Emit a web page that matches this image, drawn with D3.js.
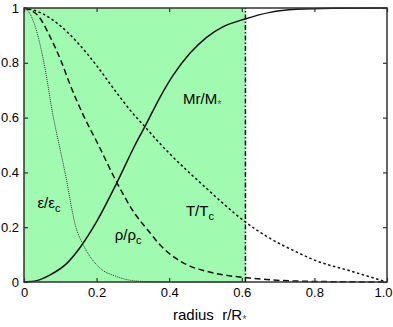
<!DOCTYPE html>
<html>
<head>
<meta charset="utf-8">
<script src="https://cdn.jsdelivr.net/npm/d3@7"></script>
<style>
  body { margin: 0; background: #fff; }
  svg { display: block; font-family: "Liberation Sans", Arial, sans-serif; }
</style>
</head>
<body>
<svg id="vis" width="393" height="327"></svg>
<script>
var MARGINS = {top: 8, right: 6, bottom: 45, left: 24};
var width = 393, height = 327;

// tick labels
var xTicks = [0, 0.2, 0.4, 0.6, 0.8, 1.0];
var xTickLabels = ["0", "0.2", "0.4", "0.6", "0.8", "1.0"];
var yTicks = [0, 0.2, 0.4, 0.6, 0.8, 1];
var yTickLabels = ["0", "0.2", "0.4", "0.6", "0.8", "1"];

// shaded core region edge (r/R*)
var coreEdge = 0.61;

// curves (r/R*, value)
var massR = [0, 0.035, 0.072, 0.118, 0.154, 0.2, 0.255, 0.306, 0.333, 0.375, 0.411, 0.457, 0.503, 0.549, 0.609, 0.678, 0.75, 0.85, 1.0];
var massV = [0, 0.005, 0.026, 0.068, 0.125, 0.22, 0.36, 0.5, 0.567, 0.675, 0.755, 0.835, 0.893, 0.932, 0.96, 0.984, 0.995, 0.999, 1.0];

var tempR = [0, 0.05, 0.1, 0.15, 0.2, 0.25, 0.3, 0.333, 0.361, 0.4, 0.457, 0.5, 0.55, 0.609, 0.678, 0.75, 0.8, 0.9, 0.95, 1.0];
var tempV = [1, 0.98, 0.935, 0.87, 0.79, 0.70, 0.615, 0.567, 0.525, 0.47, 0.397, 0.345, 0.285, 0.22, 0.159, 0.11, 0.08, 0.04, 0.02, 0];

var rhoR = [0, 0.04, 0.07, 0.101, 0.13, 0.163, 0.205, 0.255, 0.3, 0.347, 0.375, 0.42, 0.457, 0.5, 0.549, 0.609, 0.678, 0.8, 1.0];
var rhoV = [1, 0.97, 0.9, 0.81, 0.71, 0.61, 0.5, 0.365, 0.26, 0.18, 0.135, 0.085, 0.058, 0.04, 0.026, 0.016, 0.008, 0.002, 0];

var epsR = [0, 0.02, 0.04, 0.055, 0.081, 0.097, 0.113, 0.143, 0.165, 0.205, 0.255, 0.3, 0.35, 0.45, 0.6];
var epsV = [1, 0.97, 0.89, 0.8, 0.6, 0.5, 0.4, 0.2, 0.131, 0.056, 0.02, 0.005, 0.001, 0, 0];

var display = d3.select("#vis");

var xScale = d3.scaleLinear().domain([0, 1]).range([MARGINS.left, width - MARGINS.right]);
var yScale = d3.scaleLinear().domain([0, 1]).range([height - MARGINS.bottom, MARGINS.top]);

function pairs(rs, vs) {
    return rs.map(function (r, i) { return [r, vs[i]]; });
}

// green core region
display.append("rect")
    .attr("x", xScale(0))
    .attr("y", yScale(1))
    .attr("width", xScale(coreEdge) - xScale(0))
    .attr("height", yScale(0) - yScale(1))
    .attr("fill", "#a0fab0");

var line = d3.line()
    .x(function (d) { return xScale(d[0]); })
    .y(function (d) { return yScale(d[1]); })
    .curve(d3.curveMonotoneX);

var series = [
    {r: epsR, v: epsV, dash: "1,1", w: 1, color: "#333"},
    {r: rhoR, v: rhoV, dash: "6,3.5", w: 1.5, color: "#111"},
    {r: tempR, v: tempV, dash: "2.5,2.5", w: 1.5, color: "#111"},
    {r: massR, v: massV, dash: null, w: 1.5, color: "#111"}
];

series.forEach(function (s) {
    display.append("path")
        .datum(pairs(s.r, s.v))
        .attr("d", line)
        .attr("fill", "none")
        .attr("stroke", s.color)
        .attr("stroke-width", s.w)
        .attr("stroke-dasharray", s.dash);
});

// core boundary
display.append("line")
    .attr("x1", xScale(coreEdge)).attr("x2", xScale(coreEdge))
    .attr("y1", yScale(0)).attr("y2", yScale(1))
    .attr("stroke", "#111")
    .attr("stroke-width", 1.5)
    .attr("stroke-dasharray", "5,2,1.5,2");

// axes with inward ticks on all four sides
function styleAxis(g) {
    g.select(".domain").remove();
    g.selectAll(".tick line").attr("stroke", "#333").attr("stroke-width", 1.2);
    g.selectAll(".tick text").attr("fill", "#000").style("font-size", "13px")
        .style("font-family", "'Liberation Sans', Arial, sans-serif");
}

var xAxisG = display.append("g")
    .attr("transform", "translate(0," + yScale(0) + ")")
    .call(d3.axisBottom(xScale).tickValues(xTicks).tickSizeInner(-4).tickSizeOuter(0).tickPadding(6)
        .tickFormat(function (d, i) { return xTickLabels[i]; }))
    .call(styleAxis);
// keep the last label inside the window
xAxisG.selectAll(".tick text").filter(function (d) { return d === 1; }).attr("dx", -4);

display.append("g")
    .attr("transform", "translate(0," + yScale(1) + ")")
    .call(d3.axisTop(xScale).tickValues(xTicks).tickSizeInner(-4).tickSizeOuter(0).tickFormat(""))
    .call(styleAxis);
display.append("g")
    .attr("transform", "translate(" + xScale(0) + ",0)")
    .call(d3.axisLeft(yScale).tickValues(yTicks).tickSizeInner(-4).tickSizeOuter(0).tickPadding(5)
        .tickFormat(function (d, i) { return yTickLabels[i]; }))
    .call(styleAxis);
display.append("g")
    .attr("transform", "translate(" + xScale(1) + ",0)")
    .call(d3.axisRight(yScale).tickValues(yTicks).tickSizeInner(-4).tickSizeOuter(0).tickFormat(""))
    .call(styleAxis);

// frame
display.append("rect")
    .attr("x", xScale(0)).attr("y", yScale(1))
    .attr("width", xScale(1) - xScale(0))
    .attr("height", yScale(0) - yScale(1))
    .attr("fill", "none")
    .attr("stroke", "#333")
    .attr("stroke-width", 1.5);

// curve labels
function label(r, v, main, sub) {
    var t = display.append("text")
        .attr("x", xScale(r))
        .attr("y", yScale(v))
        .style("font-size", "15px")
        .attr("fill", "#000");
    t.append("tspan").text(main);
    t.append("tspan").attr("dy", 4).style("font-size", "11px").text(sub);
    return t;
}
label(0.037, 0.271, "\u03b5/\u03b5", "c");
label(0.25, 0.153, "\u03c1/\u03c1", "c");
label(0.446, 0.241, "T/T", "c");
var m = label(0.438, 0.65, "Mr/M", "*");
m.select("tspan:last-child").attr("fill", "#555");

// x-axis title
var xt = display.append("text")
    .attr("x", 173)
    .attr("y", 320)
    .style("font-size", "15px")
    .style("white-space", "pre")
    .attr("fill", "#000");
xt.append("tspan").text("radius  r/R");
xt.append("tspan").attr("dy", 3).style("font-size", "11px").attr("fill", "#555").text("*");
</script>
</body>
</html>
